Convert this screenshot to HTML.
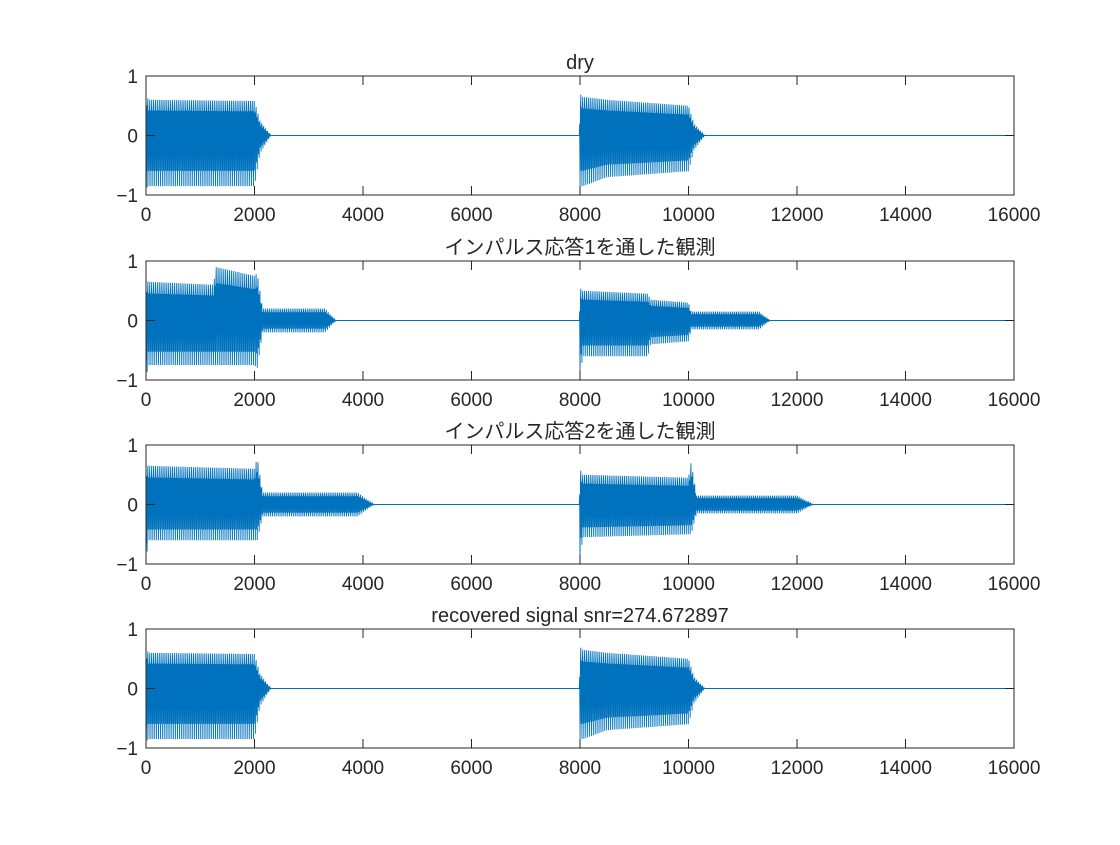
<!DOCTYPE html>
<html><head><meta charset="utf-8"><style>
body{margin:0;background:#fff}
svg text{font-family:"Liberation Sans","Noto Sans CJK JP",sans-serif;fill:#262626}
</style></head><body>
<svg id="fig" width="1120" height="840"></svg>
<script>
// x knots (samples), upper and lower envelopes for each subplot
const titles=["dry","インパルス応答1を通した観測","インパルス応答2を通した観測","recovered signal snr=274.672897"];
const kx1=[0,40,2000,2100,2300,7990,8000,8050,8500,10000,10100,10300,16000];
const up1=[0.78,0.6,0.58,0.25,0,0,0.7,0.65,0.6,0.5,0.2,0,0];
const lo1=[-0.9,-0.85,-0.85,-0.3,0,0,-0.85,-0.85,-0.7,-0.6,-0.25,0,0];
const kx2=[0,40,1250,1280,2000,2050,2150,3300,3500,7990,8000,8050,9250,9300,10000,10050,11300,11500,16000];
const up2=[0.7,0.65,0.6,0.9,0.75,0.8,0.2,0.2,0,0,0.55,0.5,0.45,0.35,0.3,0.15,0.15,0,0];
const lo2=[-1,-0.75,-0.75,-0.75,-0.75,-0.8,-0.2,-0.2,0,0,-1,-0.6,-0.6,-0.4,-0.35,-0.15,-0.15,0,0];
const kx3=[0,40,2000,2050,2150,3900,4200,7990,8000,8050,10000,10050,10150,12000,12300,16000];
const up3=[0.7,0.65,0.6,0.8,0.2,0.2,0,0,0.6,0.5,0.45,0.72,0.15,0.15,0,0];
const lo3=[-1,-0.6,-0.6,-0.6,-0.2,-0.2,0,0,-1,-0.55,-0.5,-0.5,-0.15,-0.15,0,0];
const kx4=kx1, up4=up1, lo4=lo1;
const xTicks=[0,2000,4000,6000,8000,10000,12000,14000,16000];
const yTicks=[-1,0,1];
const series=[[kx1,up1,lo1],[kx2,up2,lo2],[kx3,up3,lo3],[kx4,up4,lo4]];
const tops=[76,261,445,629], H=119, L=146, R=1014;
const NS="http://www.w3.org/2000/svg", svg=document.getElementById('fig');
function mk(t,a,p){const e=document.createElementNS(NS,t);for(const k in a)e.setAttribute(k,a[k]);(p||svg).appendChild(e);return e;}
function interp(kx,kv,x){for(let i=0;i<kx.length-1;i++){if(x>=kx[i]&&x<=kx[i+1]){const t=(x-kx[i])/(kx[i+1]-kx[i]||1);return kv[i]+t*(kv[i+1]-kv[i]);}}return 0;}
series.forEach((s,p)=>{
  const top=tops[p];
  const sx=v=>L+(v/16000)*(R-L), sy=v=>top+(1-v)/2*H;
  const g=mk('g',{});
  
  
  const pts=[];
  for(let i=0;i*7<=16000;i++){
    const x=i*7,u=interp(s[0],s[1],x),l=interp(s[0],s[2],x);
    const m=i%5;const v=m==0?u:m==1?0.7*l:m==2?0.7*u:m==3?l:0.7*u;
    pts.push(sx(x).toFixed(2)+','+sy(v).toFixed(1));
  }
  const line=mk('polyline',{points:pts.join(' '),fill:'none',stroke:'#0072BD','stroke-width':0.9},g);
  
  
  const box=mk('rect',{x:L,y:top,width:R-L,height:H,fill:'none',stroke:'#262626','stroke-width':1},g);
  
  
  xTicks.forEach(t=>{
    mk('line',{x1:sx(t),x2:sx(t),y1:top+H,y2:top+H-9,stroke:'#262626'},g);
    mk('line',{x1:sx(t),x2:sx(t),y1:top,y2:top+9,stroke:'#262626'},g);
    const tx=mk('text',{x:sx(t),y:top+H+26,'text-anchor':'middle','font-size':19},g);tx.textContent=t;
    
    
  });
  yTicks.forEach(t=>{
    mk('line',{x1:L,x2:L+9,y1:sy(t),y2:sy(t),stroke:'#262626'},g);
    mk('line',{x1:R,x2:R-9,y1:sy(t),y2:sy(t),stroke:'#262626'},g);
    const tx=mk('text',{x:L-8,y:sy(t)+7,'text-anchor':'end','font-size':19},g);tx.textContent=t<0?'\u22121':t;
    
    
  });
  const ti=mk('text',{x:(L+R)/2,y:top-7,'text-anchor':'middle','font-size':20},g);ti.textContent=titles[p];
  
  
});
</script>
</body></html>
